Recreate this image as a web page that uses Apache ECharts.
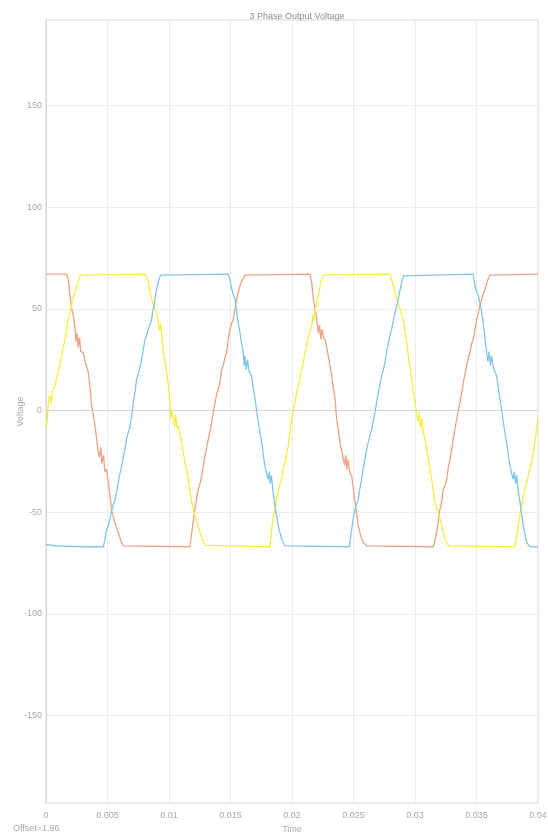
<!DOCTYPE html>
<html>
<head>
<meta charset="utf-8">
<title>3 Phase Output Voltage</title>
<script src="https://cdn.jsdelivr.net/npm/echarts@6/dist/echarts.min.js"></script>
<style>
    html, body { margin: 0; padding: 0; background: #fff; }
    #main { width: 548px; height: 835px; }
</style>
</head>
<body>
<div id="main"></div>
<script>
// [time, voltage]
let redPts = [
    [0, 67], [0.00168, 67], [0.00182, 64], [0.00195, 57], [0.00209, 50], [0.00222, 47], [0.00236, 40],
    [0.00245, 34], [0.00252, 38], [0.00262, 31], [0.00272, 36], [0.00282, 29], [0.00303, 28.5], [0.00318, 24],
    [0.00344, 18.7], [0.00358, 11], [0.00371, 2.3], [0.00385, -2], [0.00398, -7.5], [0.00412, -14],
    [0.00425, -20.7], [0.00435, -23], [0.00445, -18], [0.00455, -26], [0.00468, -22], [0.00478, -30],
    [0.00492, -29], [0.00507, -35.4], [0.0052, -42], [0.00534, -49.4], [0.0056, -55], [0.00588, -60],
    [0.00608, -64], [0.00629, -66.6], [0.01171, -67],
    [0.01185, -60], [0.01198, -54], [0.01211, -48.5], [0.01225, -43], [0.01238, -38.7], [0.01252, -36],
    [0.01266, -32.1], [0.0128, -27], [0.01293, -22.3], [0.01306, -18], [0.0132, -14.1], [0.01334, -10],
    [0.01347, -5.9], [0.0136, -1], [0.01374, 3.9], [0.01388, 8], [0.01401, 10.5], [0.01415, 14],
    [0.01428, 20.3], [0.01441, 22], [0.01455, 26], [0.01469, 28.5], [0.01482, 35], [0.01496, 40],
    [0.0151, 43], [0.01523, 44.9], [0.01537, 50], [0.0155, 54.8], [0.01563, 58], [0.01577, 61.3],
    [0.01598, 64.5], [0.01618, 66.6], [0.02146, 67],
    [0.0216, 63], [0.02173, 55], [0.02187, 50], [0.02201, 44.9], [0.02214, 38], [0.02224, 42], [0.02234, 35],
    [0.02245, 40], [0.02255, 36], [0.02268, 35], [0.02282, 31], [0.02295, 26.9], [0.02309, 22], [0.02323, 17],
    [0.02336, 11], [0.0235, 5.6], [0.02363, -4.3], [0.02377, -10], [0.0239, -15.7], [0.02404, -20],
    [0.02417, -23.9], [0.02427, -27], [0.02437, -22], [0.02447, -29], [0.02457, -24], [0.02471, -31],
    [0.02485, -32.1], [0.02498, -38], [0.02512, -45.3], [0.02526, -51], [0.02539, -56.7], [0.0256, -62],
    [0.0258, -64.9], [0.02607, -66.6], [0.03149, -67],
    [0.03162, -64], [0.03176, -60], [0.0319, -54], [0.03203, -48.5], [0.03217, -45], [0.0323, -38.7],
    [0.03244, -37], [0.03258, -33.8], [0.03271, -28], [0.03285, -23.9], [0.03298, -19], [0.03311, -14.1],
    [0.03325, -9], [0.03339, -4.3], [0.03352, 0], [0.03366, 3.9], [0.0338, 9], [0.03393, 13.8], [0.03407, 18],
    [0.0342, 22], [0.03434, 26], [0.03447, 28.5], [0.03461, 33], [0.03474, 35], [0.03488, 40], [0.03502, 44.9],
    [0.03515, 48], [0.03528, 51.5], [0.03548, 56], [0.03569, 59.7], [0.0359, 64], [0.0361, 66.6], [0.04, 67]
];

let yellowPts = [
    [0, -8], [0.0001, -5], [0.00019, -5], [0.00022, 6], [0.00033, 7.2], [0.00042, 3], [0.0005, 9], [0.0006, 10],
    [0.00073, 12], [0.00087, 16], [0.001, 18.7], [0.00114, 23], [0.00128, 26.9], [0.00141, 31], [0.00154, 35],
    [0.00168, 40], [0.00181, 44.9], [0.0019, 47], [0.002, 47.4], [0.0021, 52], [0.00222, 56], [0.00236, 58],
    [0.0025, 61.3], [0.00266, 64.5], [0.00282, 66.6], [0.00805, 67],
    [0.00818, 65.5], [0.00832, 63], [0.00845, 58], [0.00859, 54.8], [0.00872, 52], [0.00886, 49.8], [0.009, 47],
    [0.00913, 44.1], [0.00922, 39], [0.0093, 43], [0.0094, 38.4], [0.00954, 28.5], [0.00968, 24], [0.00981, 18.7],
    [0.00995, 12], [0.01008, 3.9], [0.01015, -4], [0.01022, 0], [0.01035, -4.3], [0.01045, -8], [0.01055, -2],
    [0.01066, -9], [0.01076, -7.5], [0.0109, -12], [0.01103, -15.7], [0.01117, -21], [0.0113, -25.6],
    [0.01144, -29], [0.01157, -33.8], [0.01171, -40], [0.01185, -45.3], [0.01198, -49], [0.01211, -51.8],
    [0.01232, -56], [0.01252, -60], [0.01272, -63.5], [0.01293, -66.3], [0.01821, -67],
    [0.01835, -58.4], [0.01848, -52], [0.01862, -48.5], [0.01875, -43], [0.01889, -40.3], [0.01902, -36],
    [0.01916, -33.8], [0.0193, -28], [0.01943, -25.6], [0.01957, -21], [0.0197, -17.4], [0.01984, -10],
    [0.01997, -4.3], [0.0201, 0], [0.02024, 3.9], [0.02038, 9], [0.02051, 12.1], [0.02065, 16], [0.02079, 20.3],
    [0.02092, 24], [0.02106, 28.5], [0.02119, 32], [0.02133, 36.7], [0.02146, 39], [0.0216, 41.6], [0.02168, 47],
    [0.02176, 44], [0.02187, 48.2], [0.022, 53], [0.02214, 56.4], [0.02228, 61], [0.02241, 64.6], [0.0226, 66.7],
    [0.02797, 67],
    [0.0281, 64], [0.02824, 61.3], [0.02837, 58], [0.02851, 54.8], [0.02865, 52], [0.02878, 49.8], [0.02892, 47],
    [0.02905, 44.9], [0.02919, 39], [0.02933, 33.4], [0.02946, 26.9], [0.0296, 21], [0.02973, 15.4], [0.02987, 9],
    [0.03, 3.9], [0.03013, -2], [0.03027, -5.9], [0.03035, -1], [0.03045, -9], [0.03055, -4], [0.03068, -11],
    [0.03081, -14.1], [0.03095, -19], [0.03108, -23.9], [0.03122, -29], [0.03136, -33.8], [0.03149, -40],
    [0.03163, -45.3], [0.03176, -48], [0.0319, -50.2], [0.03203, -53], [0.03217, -56.7], [0.0323, -60],
    [0.03244, -63.3], [0.03262, -65.5], [0.03279, -66.6], [0.03813, -67],
    [0.03826, -62], [0.0384, -56.7], [0.03853, -51], [0.03867, -46.9], [0.0388, -42], [0.03894, -38.7],
    [0.03908, -35], [0.03921, -32.1], [0.03935, -28], [0.03949, -25.6], [0.03962, -20], [0.03976, -15.7],
    [0.03988, -9], [0.04, -4.3]
];

let bluePts = [
    [0, -66], [0.0008, -66.5], [0.003, -67], [0.00466, -67], [0.00477, -64], [0.00488, -60], [0.00497, -58],
    [0.00507, -56.6], [0.0052, -53], [0.00534, -49.4], [0.00547, -46], [0.00561, -44.4], [0.00574, -40],
    [0.00588, -35.4], [0.00601, -31], [0.00615, -27.2], [0.00628, -23], [0.00642, -19], [0.00655, -14],
    [0.00669, -10.8], [0.00683, -8], [0.00697, -2.6], [0.0071, 3.9], [0.00723, 9], [0.00737, 15.4], [0.0075, 18],
    [0.00764, 21], [0.00778, 25.2], [0.00791, 30], [0.00805, 35], [0.00818, 37], [0.00832, 40], [0.00845, 42],
    [0.00859, 44.9], [0.00868, 49], [0.00878, 51.5], [0.00889, 56], [0.009, 59.7], [0.00916, 64], [0.00932, 66.6],
    [0.01482, 67],
    [0.01496, 64], [0.0151, 59.7], [0.01523, 57], [0.01537, 54.8], [0.0155, 48.2], [0.01563, 43], [0.01577, 38.4],
    [0.0159, 33], [0.01604, 28.5], [0.01611, 22], [0.01618, 27], [0.01628, 20], [0.01638, 25], [0.01652, 19],
    [0.01672, 17], [0.01685, 11], [0.01699, 5.6], [0.01712, 0], [0.01726, -5.9], [0.0174, -11], [0.01754, -15.7],
    [0.01767, -22], [0.0178, -27.2], [0.01794, -31], [0.01807, -33.8], [0.01815, -30], [0.01822, -36],
    [0.01832, -32], [0.01848, -41], [0.01862, -46.9], [0.01875, -52], [0.01889, -56.7], [0.01902, -60],
    [0.01916, -63.3], [0.01943, -66.6], [0.02466, -67],
    [0.02475, -63], [0.02485, -58.4], [0.02498, -53], [0.02512, -48.5], [0.02526, -46], [0.02539, -43.6],
    [0.02553, -38], [0.02567, -33.8], [0.0258, -28], [0.02593, -23.9], [0.02607, -19], [0.0262, -15.7],
    [0.02634, -12], [0.02648, -9.2], [0.02661, -5], [0.02675, -1], [0.02688, 4], [0.02702, 8.9], [0.02715, 13],
    [0.02729, 17], [0.02742, 20], [0.02756, 23.6], [0.0277, 29], [0.02783, 33.4], [0.02797, 37], [0.0281, 40],
    [0.02824, 44], [0.02837, 48.2], [0.0285, 51], [0.02864, 54.8], [0.02878, 59], [0.02892, 63], [0.02905, 66.2],
    [0.0292, 67], [0.03474, 67],
    [0.03488, 61.3], [0.03502, 58], [0.03515, 56.4], [0.03528, 53], [0.03542, 48.2], [0.03552, 44], [0.03561, 40],
    [0.03572, 34], [0.03583, 28.5], [0.03593, 24], [0.03603, 29], [0.03613, 22], [0.03623, 27], [0.03637, 21],
    [0.0365, 19], [0.03664, 17], [0.03677, 11], [0.03691, 5.6], [0.03705, 0], [0.03718, -5.9], [0.03732, -11],
    [0.03745, -15.7], [0.03759, -22], [0.03772, -27.2], [0.03786, -31], [0.03799, -33.8], [0.03808, -30],
    [0.03817, -36], [0.03827, -32], [0.0384, -40], [0.03854, -45.3], [0.03867, -51], [0.03881, -56.7],
    [0.03894, -61], [0.03908, -64.9], [0.03935, -66.9], [0.04, -67]
];

let phaseColors = ["#eda185", "#f3ee45", "#80c6e6"];

let dom = document.getElementById("main");
let myChart = echarts.init(dom, null, { renderer: "canvas" });

let axisText = { color: "#a8a8a8", fontSize: 9, fontFamily: "Liberation Sans" };

let option = {
    animation: false,
    title: {
        text: "3 Phase Output Voltage",
        left: 292,
        textAlign: "center",
        top: 7,
        textStyle: { color: "#8c8c8c", fontSize: 9, fontWeight: "normal", fontFamily: "Liberation Sans" },
    },
    grid: {
        left: 46,
        right: 10,
        top: 20,
        bottom: 32,
        outerBoundsMode: "none",
        containLabel: false,
        show: true,
        borderColor: "#d6d6d6",
        borderWidth: 1,
    },
    xAxis: {
        type: "value",
        min: 0,
        max: 0.04,
        interval: 0.005,
        name: "Time",
        nameLocation: "middle",
        nameGap: 21,
        nameTextStyle: axisText,
        axisLine: { lineStyle: { color: "#d6d6d6" } },
        axisTick: { show: false },
        axisLabel: Object.assign({ margin: 8, showMinLabel: true, showMaxLabel: true }, axisText),
        splitLine: { lineStyle: { color: "#ececec" } },
    },
    yAxis: {
        type: "value",
        min: -193,
        max: 192,
        splitNumber: 8,
        name: "Voltage",
        nameLocation: "middle",
        nameGap: 21,
        nameMoveOverlap: false,
        nameTextStyle: axisText,
        axisLine: { show: true, lineStyle: { color: "#d6d6d6" } },
        axisTick: { show: false },
        axisLabel: Object.assign({ margin: 4, showMinLabel: false, showMaxLabel: false }, axisText),
        splitLine: { lineStyle: { color: "#ececec" } },
    },
    graphic: [{
        type: "text",
        left: 13,
        top: 824,
        style: { text: "Offset=1.96", fill: "#a8a8a8", fontSize: 9, fontFamily: "Liberation Sans" },
    }],
    series: [
        { name: "A", type: "line", data: redPts, showSymbol: false, lineStyle: { width: 1.3, color: phaseColors[0] } },
        { name: "B", type: "line", data: yellowPts, showSymbol: false, lineStyle: { width: 1.3, color: phaseColors[1] } },
        { name: "C", type: "line", data: bluePts, showSymbol: false, lineStyle: { width: 1.3, color: phaseColors[2] } },
    ],
};

myChart.setOption(option);
window.addEventListener("resize", myChart.resize);
</script>
</body>
</html>
